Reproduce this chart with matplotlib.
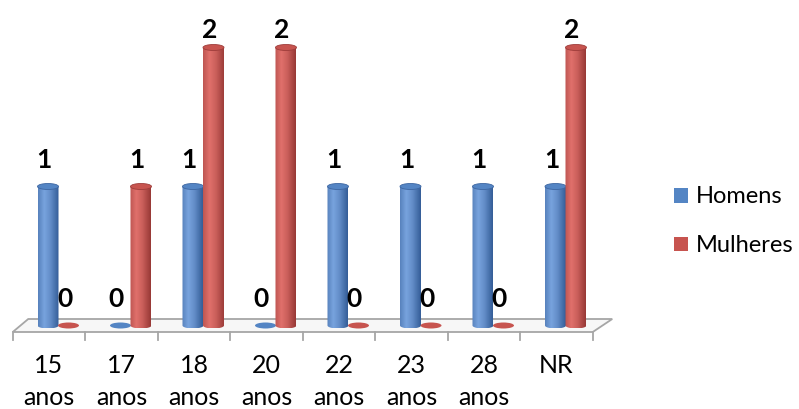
import numpy as np
import matplotlib
matplotlib.use('Agg')
import matplotlib.pyplot as plt
from matplotlib.patches import Polygon, Ellipse, Rectangle

# Dados
categorias = ['15 anos', '17 anos', '18 anos', '20 anos', '22 anos', '23 anos', '28 anos', 'NR']
homens = [1, 0, 1, 0, 1, 1, 1, 1]
mulheres = [0, 1, 2, 2, 0, 0, 0, 2]
series = ['Homens', 'Mulheres']

plt.rcParams['font.family'] = ['Lato', 'DejaVu Sans']

W, H = 799, 409
X0, DX = 49.0, 72.5      # px of first category centre, px per category
Y0, DY = 325.5, 139.0    # px of value 0, px per unit

fig = plt.figure(figsize=(W / 100, H / 100), dpi=100)
ax = fig.add_axes([0, 0, 1, 1])
ax.axis('off')

# cores (escuro, claro, tampa, borda)
BLUE = ((0.19, 0.35, 0.58), (0.47, 0.64, 0.87), (0.33, 0.52, 0.77), (0.24, 0.40, 0.63))
RED = ((0.58, 0.21, 0.20), (0.88, 0.44, 0.42), (0.78, 0.33, 0.31), (0.62, 0.24, 0.23))

bw = 21 / DX          # largura da barra em unidades
eh = 3.0 / DY         # meia altura da elipse
offsets = [-1 / DX, 19.5 / DX]

# chão
fy, by = -6.5 / DY, 6.5 / DY
floor = Polygon([(-0.5, fy), (7.5, fy), (7.5 + 19.5 / DX, by), (-0.5 + 15.5 / DX, by)],
                closed=True, facecolor='#F7F7F7', edgecolor='#A6A6A6', lw=1.3, zorder=1)
ax.add_patch(floor)
for i in range(len(categorias) + 1):
    ax.plot([-0.5 + i, -0.5 + i], [fy, -14 / DY], color='#A6A6A6', lw=1.3, zorder=1)

t = np.linspace(0, 1, 60)
light = np.interp(t, [0, 0.3, 0.6, 1], [0.55, 1.0, 0.7, 0.05])


def cylinder(xc, h, cols, z):
    dark, lite, cap, edge = [np.array(c) for c in cols]
    x0, x1 = xc - bw / 2, xc + bw / 2
    if h == 0:
        ax.add_patch(Ellipse((xc, 0), bw, 2 * eh, facecolor=cap, edgecolor='none', zorder=z))
        return
    img = dark[None, None, :] + light[None, :, None] * (lite - dark)[None, None, :]
    im = ax.imshow(img, extent=(x0, x1, -eh, h), aspect='auto', interpolation='bilinear', zorder=z)
    ang = np.linspace(np.pi, 2 * np.pi, 40)
    pts = [(x0, h)] + list(zip(xc + bw / 2 * np.cos(ang), eh * np.sin(ang))) + [(x1, h)]
    clip = Polygon(pts, closed=True, transform=ax.transData)
    im.set_clip_path(clip)
    ax.add_patch(Ellipse((xc, h), bw, 2 * eh, facecolor=cap, edgecolor=edge, lw=0.6, zorder=z + 0.1))


for s, (vals, cols) in enumerate([(homens, BLUE), (mulheres, RED)]):
    for i, v in enumerate(vals):
        xc = i + offsets[s]
        cylinder(xc, v, cols, 2 + s)
        ly = min(v + 18.5 / DY, 2 + 10 / DY)
        ax.text(xc - 4 / DX, ly, str(v), ha='center', va='baseline',
                fontsize=19, fontweight='bold', color='black', zorder=5)

# rótulos das categorias
for i, c in enumerate(categorias):
    parts = c.split(' ')
    ax.text(i, (Y0 - 373) / DY, parts[0], ha='center', va='baseline', fontsize=18, color='black')
    if len(parts) > 1:
        ax.text(i, (Y0 - 405) / DY, parts[1], ha='center', va='baseline', fontsize=18, color='black')

ax.set_xlim(-X0 / DX, (W - X0) / DX)
ax.set_ylim((Y0 - H) / DY, Y0 / DY)

# legenda
for k, (name, cols) in enumerate(zip(series, [BLUE, RED])):
    ytop = 188.5 + k * 48.5
    fig.add_artist(Rectangle((673.5 / W, 1 - (ytop + 14) / H), 14 / W, 14 / H,
                             transform=fig.transFigure, facecolor=cols[2], edgecolor='none'))
    fig.text(696 / W, 1 - (ytop + 14.5) / H, name, ha='left', va='baseline', fontsize=17, color='black')

fig.savefig('out.png', dpi=100)
